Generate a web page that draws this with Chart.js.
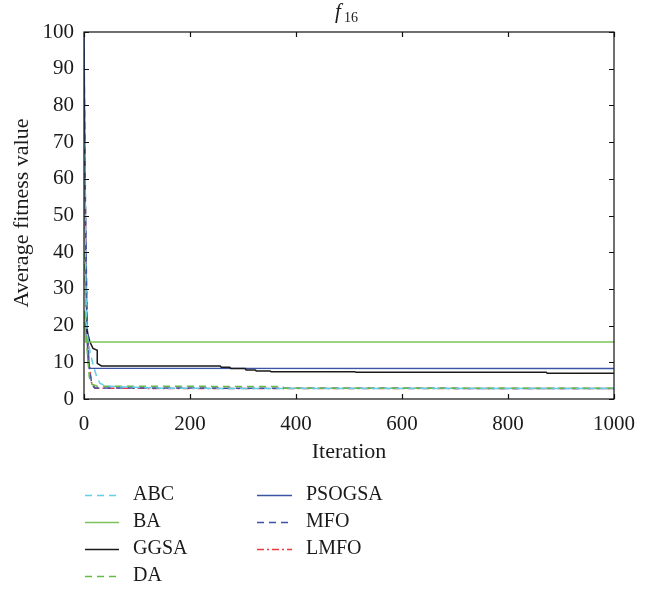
<!DOCTYPE html>
<html>
<head>
<meta charset="utf-8">
<script src="https://cdn.jsdelivr.net/npm/chart.js@4.4.1/dist/chart.umd.min.js"></script>
<style>
    html, body { margin: 0; padding: 0; background: #ffffff; }
    #wrap { width: 647px; height: 595px; position: relative; }
</style>
</head>
<body>
<div id="wrap"><canvas id="fitnessChart" width="647" height="595"></canvas></div>
<script>
// convergence curves, f16
const xTicks = [0, 200, 400, 600, 800, 1000];
const yTicks = [0, 10, 20, 30, 40, 50, 60, 70, 80, 90, 100];

const abcIter = [1, 3, 5, 8, 12, 18, 24, 30, 40, 55, 80, 150, 1000];
const abcFit = [70, 35, 20, 15.5, 12.5, 8.8, 6.1, 4.3, 3.6, 3.4, 3.3, 2.9, 2.85];

const baIter = [1, 3, 1000];
const baFit = [24, 15.5, 15.5];

const ggsaIter = [1, 5, 11, 17, 25, 25, 33, 257, 259, 275, 277, 304, 306, 323, 325, 351, 353, 511, 513, 872, 874, 1000];
const ggsaFit = [21, 19, 15.6, 13.8, 13.3, 9.7, 9.0, 9.0, 8.65, 8.65, 8.3, 8.3, 7.9, 7.9, 7.65, 7.65, 7.45, 7.45, 7.3, 7.3, 7.0, 7.0];

const daIter = [1, 5, 10, 15, 25, 375, 378, 1000];
const daFit = [40, 15, 6, 4, 3.5, 3.4, 2.9, 2.9];

const psogsaIter = [0, 2, 4, 6, 8, 11, 1000];
const psogsaFit = [100, 60, 30, 16, 10, 8.4, 8.3];

const mfoIter = [0, 3, 6, 10, 15, 20, 1000];
const mfoFit = [95, 50, 20, 8, 4, 3.0, 2.85];

const lmfoIter = [0, 3, 6, 10, 14, 21, 1000];
const lmfoFit = [85, 45, 18, 9, 4.5, 2.9, 2.85];

const serif = '"Liberation Serif", "DejaVu Serif", serif';

function pts(iters, vals) {
    return iters.map((x, i) => ({ x, y: vals[i] }));
}

function series(label, iters, vals, color, dash) {
    return {
        label,
        data: pts(iters, vals),
        borderColor: color,
        backgroundColor: color,
        borderWidth: 1.5,
        borderDash: dash,
        pointRadius: 0,
        tension: 0,
        fill: false
    };
}

const datasets = [
    series('ABC', abcIter, abcFit, '#5fd0e6', [7, 5]),
    series('BA', baIter, baFit, '#7cc35a', []),
    series('GGSA', ggsaIter, ggsaFit, '#1a1a1a', []),
    series('DA', daIter, daFit, '#66bb44', [7, 5]),
    series('PSOGSA', psogsaIter, psogsaFit, '#3b55a5', []),
    series('MFO', mfoIter, mfoFit, '#4052a6', [7, 5]),
    series('LMFO', lmfoIter, lmfoFit, '#ee3a3e', [7, 3, 2, 3])
];

// frame, inward ticks, titles and the two-column legend
const decorations = {
    id: 'decorations',
    afterDraw(chart) {
        const ctx = chart.ctx;
        const { left, right, top, bottom } = chart.chartArea;
        const xs = chart.scales.x;
        const ys = chart.scales.y;

        ctx.save();
        ctx.strokeStyle = '#111';
        ctx.lineWidth = 1.2;
        ctx.setLineDash([]);
        ctx.strokeRect(left, top, right - left, bottom - top);

        ctx.beginPath();
        xTicks.forEach((v) => {
            const px = Math.round(xs.getPixelForValue(v)) + 0.5;
            ctx.moveTo(px, bottom); ctx.lineTo(px, bottom - 5);
            ctx.moveTo(px, top); ctx.lineTo(px, top + 5);
        });
        yTicks.forEach((v) => {
            const py = Math.round(ys.getPixelForValue(v)) + 0.5;
            ctx.moveTo(left, py); ctx.lineTo(left + 5, py);
            ctx.moveTo(right, py); ctx.lineTo(right - 5, py);
        });
        ctx.stroke();

        ctx.fillStyle = '#1a1a1a';

        // title f16
        ctx.textBaseline = 'alphabetic';
        ctx.textAlign = 'left';
        ctx.font = 'italic 21px ' + serif;
        ctx.fillText('f', 335, 18);
        ctx.font = '14px ' + serif;
        ctx.fillText('16', 344, 22);

        // axis titles
        ctx.font = '22px ' + serif;
        ctx.textAlign = 'center';
        ctx.textBaseline = 'middle';
        ctx.fillText('Iteration', (left + right) / 2, 452);

        ctx.save();
        ctx.translate(22, 213);
        ctx.rotate(-Math.PI / 2);
        ctx.fillText('Average fitness value', 0, 0);
        ctx.restore();

        // legend
        const rows = [495, 522, 549, 576];
        const cols = [{ x0: 85, x1: 119, tx: 133 }, { x0: 257, x1: 292, tx: 306 }];
        ctx.font = '20px ' + serif;
        ctx.textAlign = 'left';
        chart.data.datasets.forEach((ds, i) => {
            const col = cols[i < 4 ? 0 : 1];
            const y = rows[i < 4 ? i : i - 4];
            ctx.strokeStyle = ds.borderColor;
            ctx.lineWidth = ds.borderWidth;
            ctx.setLineDash(ds.borderDash);
            ctx.beginPath();
            ctx.moveTo(col.x0, y + 0.5);
            ctx.lineTo(col.x1, y + 0.5);
            ctx.stroke();
            ctx.setLineDash([]);
            ctx.fillStyle = '#1a1a1a';
            ctx.fillText(ds.label, col.tx, y);
        });
        ctx.restore();
    }
};

new Chart(document.getElementById('fitnessChart'), {
    type: 'line',
    data: { datasets },
    options: {
        responsive: false,
        animation: false,
        layout: { padding: { top: 32, right: 33, left: 0, bottom: 0 } },
        plugins: {
            legend: { display: false },
            tooltip: { enabled: false },
            title: { display: false }
        },
        scales: {
            x: {
                type: 'linear',
                min: 0,
                max: 1000,
                afterFit: (s) => { s.height = 196; },
                afterBuildTicks: (s) => { s.ticks = xTicks.map((v) => ({ value: v })); },
                grid: { display: false },
                border: { display: false },
                ticks: {
                    color: '#1a1a1a',
                    padding: 5,
                    maxRotation: 0,
                    callback: (v) => String(v),
                    font: { family: serif, size: 21 }
                }
            },
            y: {
                min: 0,
                max: 100,
                afterFit: (s) => { s.width = 84; },
                afterBuildTicks: (s) => { s.ticks = yTicks.map((v) => ({ value: v })); },
                grid: { display: false },
                border: { display: false },
                ticks: {
                    color: '#1a1a1a',
                    padding: 2,
                    callback: (v) => String(v),
                    font: { family: serif, size: 21 }
                }
            }
        }
    },
    plugins: [decorations]
});
</script>
</body>
</html>
